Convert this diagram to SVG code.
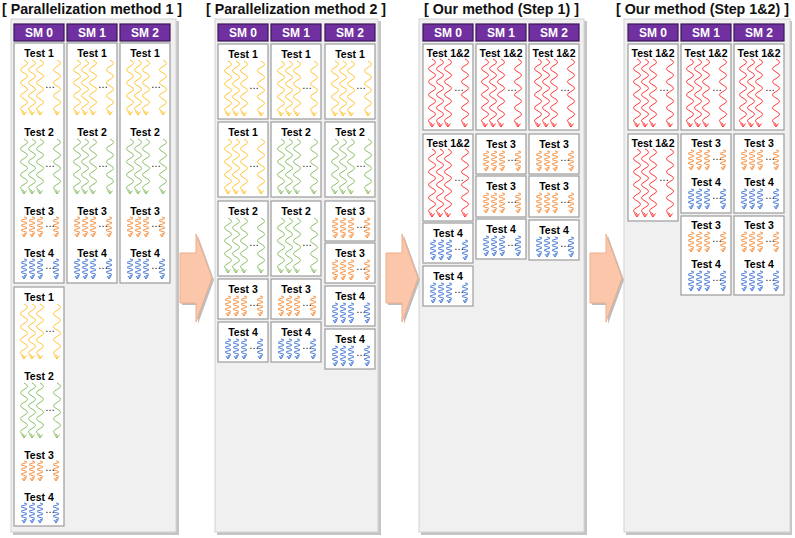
<svg xmlns="http://www.w3.org/2000/svg" xmlns:xlink="http://www.w3.org/1999/xlink" width="795" height="538" viewBox="0 0 795 538">
<style>
.title{font-family:"Liberation Sans",Arial,sans-serif;font-weight:bold;font-size:15px;fill:#111}
.pshadow{fill:#C4C4C4}
.panel{fill:#F0F0F0;stroke:#D2D2D2;stroke-width:1}
.hdr rect{fill:#7030A0;stroke:#3A1756;stroke-width:1.2}
.hdr text{fill:#fff;font-family:"Liberation Sans",Arial,sans-serif;font-weight:bold;font-size:12px;text-anchor:middle}
.box rect{fill:#fff;stroke:#9C9C9C;stroke-width:1.2}
.lbl{font-family:"Liberation Sans",Arial,sans-serif;font-weight:bold;font-size:10.5px;text-anchor:middle;fill:#000}
.dots{font-family:"Liberation Sans",Arial,sans-serif;font-size:10px;fill:#000}
.w{fill:none;stroke-width:1}
.y{stroke:#FFC533}
.g{stroke:#8CC068}
.o{stroke:#F7964A}
.b{stroke:#4F7FD8}
.r{stroke:#FF3B3B}
.arr{fill:#FBC6A9;stroke:#EDAE8E;stroke-width:1}
.arrs{fill:#BDBDBD}
</style>
<defs>
<path id="wl" class="w" d="M0,0q7,3.25 0,6.5t0,6.5t0,6.5t0,6.5t0,6.5t0,6.5t0,6.5t0,6.5l0,3M-2.5,51.5L0,55L2.5,51.5"/>
<path id="wr" class="w" d="M0,0q7,3.25 0,6.5t0,6.5t0,6.5t0,6.5t0,6.5t0,6.5t0,6.5t0,6.5t0,6.5t0,6.5l0,3M-2.5,64.5L0,68L2.5,64.5"/>
<path id="ws" class="w" d="M0,0q6,1.2 0,2.4t0,2.4t0,2.4t0,2.4t0,2.4t0,2.4t0,2.4l0,3M-2,17L0,20L2,17"/>
<g id="gl"><use href="#wl" x="10"/><use href="#wl" x="18"/><use href="#wl" x="26"/><use href="#wl" x="43"/></g>
<g id="gr"><use href="#wr" x="9"/><use href="#wr" x="17"/><use href="#wr" x="25"/><use href="#wr" x="42"/></g>
<g id="gs"><use href="#ws" x="10"/><use href="#ws" x="18"/><use href="#ws" x="26"/><use href="#ws" x="42"/></g>
<path id="arrow" d="M0,253L16,253L16,234L32,278L16,322L16,303L0,303Z"/>
</defs>
<rect width="795" height="538" fill="#fff"/>

<!-- Titles -->
<text class="title" x="2" y="14" textLength="180" lengthAdjust="spacingAndGlyphs">[ Parallelization method 1 ]</text>
<text class="title" x="206" y="14" textLength="180" lengthAdjust="spacingAndGlyphs">[ Parallelization method 2 ]</text>
<text class="title" x="424" y="14" textLength="155" lengthAdjust="spacingAndGlyphs">[ Our method (Step 1) ]</text>
<text class="title" x="616" y="14" style="font-size:14.3px" textLength="173" lengthAdjust="spacingAndGlyphs">[ Our method (Step 1&amp;2) ]</text>

<!-- Panels -->
<g id="panel1"><rect class="pshadow" x="13" y="21" width="166" height="514"/><rect class="panel" x="11" y="19" width="165" height="513"/></g>
<g id="panel2"><rect class="pshadow" x="217" y="21" width="164" height="514"/><rect class="panel" x="215" y="19" width="163" height="513"/></g>
<g id="panel3"><rect class="pshadow" x="421" y="21" width="166" height="514"/><rect class="panel" x="419" y="19" width="165" height="513"/></g>
<g id="panel4"><rect class="pshadow" x="626" y="21" width="166" height="514"/><rect class="panel" x="624" y="19" width="166" height="513"/></g>

<!-- Connectors (block arrows) -->
<g id="connectors">
<use href="#arrow" x="182" y="2" class="arrs"/><use href="#arrow" x="180" class="arr"/>
<use href="#arrow" x="388" y="2" class="arrs"/><use href="#arrow" x="386" class="arr"/>
<use href="#arrow" x="592" y="2" class="arrs"/><use href="#arrow" x="590" class="arr"/>
</g>

<!-- ===== Panel 1 ===== -->
<g id="p1-sm0" class="hdr"><rect x="14" y="24" width="50" height="17"/><text x="39" y="37">SM 0</text></g>
<g id="p1-sm1" class="hdr"><rect x="67" y="24" width="50" height="17"/><text x="92" y="37">SM 1</text></g>
<g id="p1-sm2" class="hdr"><rect x="120" y="24" width="50" height="17"/><text x="145" y="37">SM 2</text></g>

<g id="p1-c0-b1" class="box"><rect x="14" y="43" width="50" height="240"/>
<text class="lbl" x="39" y="57">Test 1</text><use href="#gl" x="14" y="60" class="y"/><text class="dots" x="45" y="88">…</text>
<text class="lbl" x="39" y="136">Test 2</text><use href="#gl" x="14" y="139" class="g"/><text class="dots" x="45" y="167">…</text>
<text class="lbl" x="39" y="215">Test 3</text><use href="#gs" x="14" y="217" class="o"/><text class="dots" x="45" y="227">…</text>
<text class="lbl" x="39" y="257">Test 4</text><use href="#gs" x="14" y="259" class="b"/><text class="dots" x="45" y="269">…</text>
</g>
<g id="p1-c0-b2" class="box"><rect x="14" y="287" width="50" height="239"/>
<text class="lbl" x="39" y="301">Test 1</text><use href="#gl" x="14" y="304" class="y"/><text class="dots" x="45" y="332">…</text>
<text class="lbl" x="39" y="380">Test 2</text><use href="#gl" x="14" y="383" class="g"/><text class="dots" x="45" y="411">…</text>
<text class="lbl" x="39" y="459">Test 3</text><use href="#gs" x="14" y="461" class="o"/><text class="dots" x="45" y="471">…</text>
<text class="lbl" x="39" y="501">Test 4</text><use href="#gs" x="14" y="503" class="b"/><text class="dots" x="45" y="513">…</text>
</g>
<g id="p1-c1-b1" class="box"><rect x="67" y="43" width="50" height="240"/>
<text class="lbl" x="92" y="57">Test 1</text><use href="#gl" x="67" y="60" class="y"/><text class="dots" x="98" y="88">…</text>
<text class="lbl" x="92" y="136">Test 2</text><use href="#gl" x="67" y="139" class="g"/><text class="dots" x="98" y="167">…</text>
<text class="lbl" x="92" y="215">Test 3</text><use href="#gs" x="67" y="217" class="o"/><text class="dots" x="98" y="227">…</text>
<text class="lbl" x="92" y="257">Test 4</text><use href="#gs" x="67" y="259" class="b"/><text class="dots" x="98" y="269">…</text>
</g>
<g id="p1-c2-b1" class="box"><rect x="120" y="43" width="50" height="240"/>
<text class="lbl" x="145" y="57">Test 1</text><use href="#gl" x="120" y="60" class="y"/><text class="dots" x="151" y="88">…</text>
<text class="lbl" x="145" y="136">Test 2</text><use href="#gl" x="120" y="139" class="g"/><text class="dots" x="151" y="167">…</text>
<text class="lbl" x="145" y="215">Test 3</text><use href="#gs" x="120" y="217" class="o"/><text class="dots" x="151" y="227">…</text>
<text class="lbl" x="145" y="257">Test 4</text><use href="#gs" x="120" y="259" class="b"/><text class="dots" x="151" y="269">…</text>
</g>

<!-- ===== Panel 2 ===== -->
<g id="p2-sm0" class="hdr"><rect x="218" y="24" width="50" height="17"/><text x="243" y="37">SM 0</text></g>
<g id="p2-sm1" class="hdr"><rect x="271" y="24" width="50" height="17"/><text x="296" y="37">SM 1</text></g>
<g id="p2-sm2" class="hdr"><rect x="325" y="24" width="50" height="17"/><text x="350" y="37">SM 2</text></g>

<g id="p2-c0-b1" class="box"><rect x="218" y="44" width="50" height="75"/><text class="lbl" x="243" y="58">Test 1</text><use href="#gl" x="218" y="61" class="y"/><text class="dots" x="249" y="89">…</text></g>
<g id="p2-c0-b2" class="box"><rect x="218" y="122" width="50" height="75"/><text class="lbl" x="243" y="136">Test 1</text><use href="#gl" x="218" y="139" class="y"/><text class="dots" x="249" y="167">…</text></g>
<g id="p2-c0-b3" class="box"><rect x="218" y="201" width="50" height="75"/><text class="lbl" x="243" y="215">Test 2</text><use href="#gl" x="218" y="218" class="g"/><text class="dots" x="249" y="246">…</text></g>
<g id="p2-c0-b4" class="box"><rect x="218" y="279" width="50" height="40"/><text class="lbl" x="243" y="293">Test 3</text><use href="#gs" x="218" y="296" class="o"/><text class="dots" x="249" y="306">…</text></g>
<g id="p2-c0-b5" class="box"><rect x="218" y="322" width="50" height="40"/><text class="lbl" x="243" y="336">Test 4</text><use href="#gs" x="218" y="339" class="b"/><text class="dots" x="249" y="349">…</text></g>

<g id="p2-c1-b1" class="box"><rect x="271" y="44" width="50" height="75"/><text class="lbl" x="296" y="58">Test 1</text><use href="#gl" x="271" y="61" class="y"/><text class="dots" x="302" y="89">…</text></g>
<g id="p2-c1-b2" class="box"><rect x="271" y="122" width="50" height="75"/><text class="lbl" x="296" y="136">Test 2</text><use href="#gl" x="271" y="139" class="g"/><text class="dots" x="302" y="167">…</text></g>
<g id="p2-c1-b3" class="box"><rect x="271" y="201" width="50" height="75"/><text class="lbl" x="296" y="215">Test 2</text><use href="#gl" x="271" y="218" class="g"/><text class="dots" x="302" y="246">…</text></g>
<g id="p2-c1-b4" class="box"><rect x="271" y="279" width="50" height="40"/><text class="lbl" x="296" y="293">Test 3</text><use href="#gs" x="271" y="296" class="o"/><text class="dots" x="302" y="306">…</text></g>
<g id="p2-c1-b5" class="box"><rect x="271" y="322" width="50" height="40"/><text class="lbl" x="296" y="336">Test 4</text><use href="#gs" x="271" y="339" class="b"/><text class="dots" x="302" y="349">…</text></g>

<g id="p2-c2-b1" class="box"><rect x="325" y="44" width="50" height="75"/><text class="lbl" x="350" y="58">Test 1</text><use href="#gl" x="325" y="61" class="y"/><text class="dots" x="356" y="89">…</text></g>
<g id="p2-c2-b2" class="box"><rect x="325" y="122" width="50" height="75"/><text class="lbl" x="350" y="136">Test 2</text><use href="#gl" x="325" y="139" class="g"/><text class="dots" x="356" y="167">…</text></g>
<g id="p2-c2-b3" class="box"><rect x="325" y="201" width="50" height="40"/><text class="lbl" x="350" y="215">Test 3</text><use href="#gs" x="325" y="218" class="o"/><text class="dots" x="356" y="228">…</text></g>
<g id="p2-c2-b4" class="box"><rect x="325" y="243" width="50" height="40"/><text class="lbl" x="350" y="257">Test 3</text><use href="#gs" x="325" y="260" class="o"/><text class="dots" x="356" y="270">…</text></g>
<g id="p2-c2-b5" class="box"><rect x="325" y="286" width="50" height="40"/><text class="lbl" x="350" y="300">Test 4</text><use href="#gs" x="325" y="303" class="b"/><text class="dots" x="356" y="313">…</text></g>
<g id="p2-c2-b6" class="box"><rect x="325" y="329" width="50" height="40"/><text class="lbl" x="350" y="343">Test 4</text><use href="#gs" x="325" y="346" class="b"/><text class="dots" x="356" y="356">…</text></g>

<!-- ===== Panel 3 ===== -->
<g id="p3-sm0" class="hdr"><rect x="423" y="24" width="50" height="17"/><text x="448" y="37">SM 0</text></g>
<g id="p3-sm1" class="hdr"><rect x="476" y="24" width="50" height="17"/><text x="501" y="37">SM 1</text></g>
<g id="p3-sm2" class="hdr"><rect x="529" y="24" width="50" height="17"/><text x="554" y="37">SM 2</text></g>

<g id="p3-c0-b1" class="box"><rect x="423" y="44" width="50" height="86"/><text class="lbl" x="448" y="57">Test 1&amp;2</text><use href="#gr" x="423" y="59" class="r"/><text class="dots" x="454" y="91">…</text></g>
<g id="p3-c0-b2" class="box"><rect x="423" y="134" width="50" height="87"/><text class="lbl" x="448" y="147">Test 1&amp;2</text><use href="#gr" x="423" y="149" class="r"/><text class="dots" x="454" y="181">…</text></g>
<g id="p3-c0-b3" class="box"><rect x="423" y="223" width="50" height="40"/><text class="lbl" x="448" y="237">Test 4</text><use href="#gs" x="423" y="240" class="b"/><text class="dots" x="454" y="250">…</text></g>
<g id="p3-c0-b4" class="box"><rect x="423" y="266" width="50" height="40"/><text class="lbl" x="448" y="280">Test 4</text><use href="#gs" x="423" y="283" class="b"/><text class="dots" x="454" y="293">…</text></g>

<g id="p3-c1-b1" class="box"><rect x="476" y="44" width="50" height="86"/><text class="lbl" x="501" y="57">Test 1&amp;2</text><use href="#gr" x="476" y="59" class="r"/><text class="dots" x="507" y="91">…</text></g>
<g id="p3-c1-b2" class="box"><rect x="476" y="134" width="50" height="40"/><text class="lbl" x="501" y="148">Test 3</text><use href="#gs" x="476" y="151" class="o"/><text class="dots" x="507" y="161">…</text></g>
<g id="p3-c1-b3" class="box"><rect x="476" y="176" width="50" height="41"/><text class="lbl" x="501" y="190">Test 3</text><use href="#gs" x="476" y="193" class="o"/><text class="dots" x="507" y="203">…</text></g>
<g id="p3-c1-b4" class="box"><rect x="476" y="219" width="50" height="40"/><text class="lbl" x="501" y="233">Test 4</text><use href="#gs" x="476" y="236" class="b"/><text class="dots" x="507" y="246">…</text></g>

<g id="p3-c2-b1" class="box"><rect x="529" y="44" width="50" height="86"/><text class="lbl" x="554" y="57">Test 1&amp;2</text><use href="#gr" x="529" y="59" class="r"/><text class="dots" x="560" y="91">…</text></g>
<g id="p3-c2-b2" class="box"><rect x="529" y="134" width="50" height="40"/><text class="lbl" x="554" y="148">Test 3</text><use href="#gs" x="529" y="151" class="o"/><text class="dots" x="560" y="161">…</text></g>
<g id="p3-c2-b3" class="box"><rect x="529" y="176" width="50" height="41"/><text class="lbl" x="554" y="190">Test 3</text><use href="#gs" x="529" y="193" class="o"/><text class="dots" x="560" y="203">…</text></g>
<g id="p3-c2-b4" class="box"><rect x="529" y="220" width="50" height="40"/><text class="lbl" x="554" y="234">Test 4</text><use href="#gs" x="529" y="237" class="b"/><text class="dots" x="560" y="247">…</text></g>

<!-- ===== Panel 4 ===== -->
<g id="p4-sm0" class="hdr"><rect x="628" y="24" width="50" height="17"/><text x="653" y="37">SM 0</text></g>
<g id="p4-sm1" class="hdr"><rect x="681" y="24" width="50" height="17"/><text x="706" y="37">SM 1</text></g>
<g id="p4-sm2" class="hdr"><rect x="734" y="24" width="50" height="17"/><text x="759" y="37">SM 2</text></g>

<g id="p4-c0-b1" class="box"><rect x="628" y="44" width="50" height="86"/><text class="lbl" x="653" y="57">Test 1&amp;2</text><use href="#gr" x="628" y="59" class="r"/><text class="dots" x="659" y="91">…</text></g>
<g id="p4-c0-b2" class="box"><rect x="628" y="134" width="50" height="87"/><text class="lbl" x="653" y="147">Test 1&amp;2</text><use href="#gr" x="628" y="149" class="r"/><text class="dots" x="659" y="181">…</text></g>

<g id="p4-c1-b1" class="box"><rect x="681" y="44" width="50" height="86"/><text class="lbl" x="706" y="57">Test 1&amp;2</text><use href="#gr" x="681" y="59" class="r"/><text class="dots" x="712" y="91">…</text></g>
<g id="p4-c1-b2" class="box"><rect x="681" y="134" width="50" height="79"/>
<text class="lbl" x="706" y="147">Test 3</text><use href="#gs" x="681" y="150" class="o"/><text class="dots" x="712" y="160">…</text>
<text class="lbl" x="706" y="186">Test 4</text><use href="#gs" x="681" y="189" class="b"/><text class="dots" x="712" y="199">…</text></g>
<g id="p4-c1-b3" class="box"><rect x="681" y="216" width="50" height="79"/>
<text class="lbl" x="706" y="229">Test 3</text><use href="#gs" x="681" y="232" class="o"/><text class="dots" x="712" y="242">…</text>
<text class="lbl" x="706" y="268">Test 4</text><use href="#gs" x="681" y="271" class="b"/><text class="dots" x="712" y="281">…</text></g>

<g id="p4-c2-b1" class="box"><rect x="734" y="44" width="50" height="86"/><text class="lbl" x="759" y="57">Test 1&amp;2</text><use href="#gr" x="734" y="59" class="r"/><text class="dots" x="765" y="91">…</text></g>
<g id="p4-c2-b2" class="box"><rect x="734" y="134" width="50" height="79"/>
<text class="lbl" x="759" y="147">Test 3</text><use href="#gs" x="734" y="150" class="o"/><text class="dots" x="765" y="160">…</text>
<text class="lbl" x="759" y="186">Test 4</text><use href="#gs" x="734" y="189" class="b"/><text class="dots" x="765" y="199">…</text></g>
<g id="p4-c2-b3" class="box"><rect x="734" y="216" width="50" height="79"/>
<text class="lbl" x="759" y="229">Test 3</text><use href="#gs" x="734" y="232" class="o"/><text class="dots" x="765" y="242">…</text>
<text class="lbl" x="759" y="268">Test 4</text><use href="#gs" x="734" y="271" class="b"/><text class="dots" x="765" y="281">…</text></g>
</svg>
